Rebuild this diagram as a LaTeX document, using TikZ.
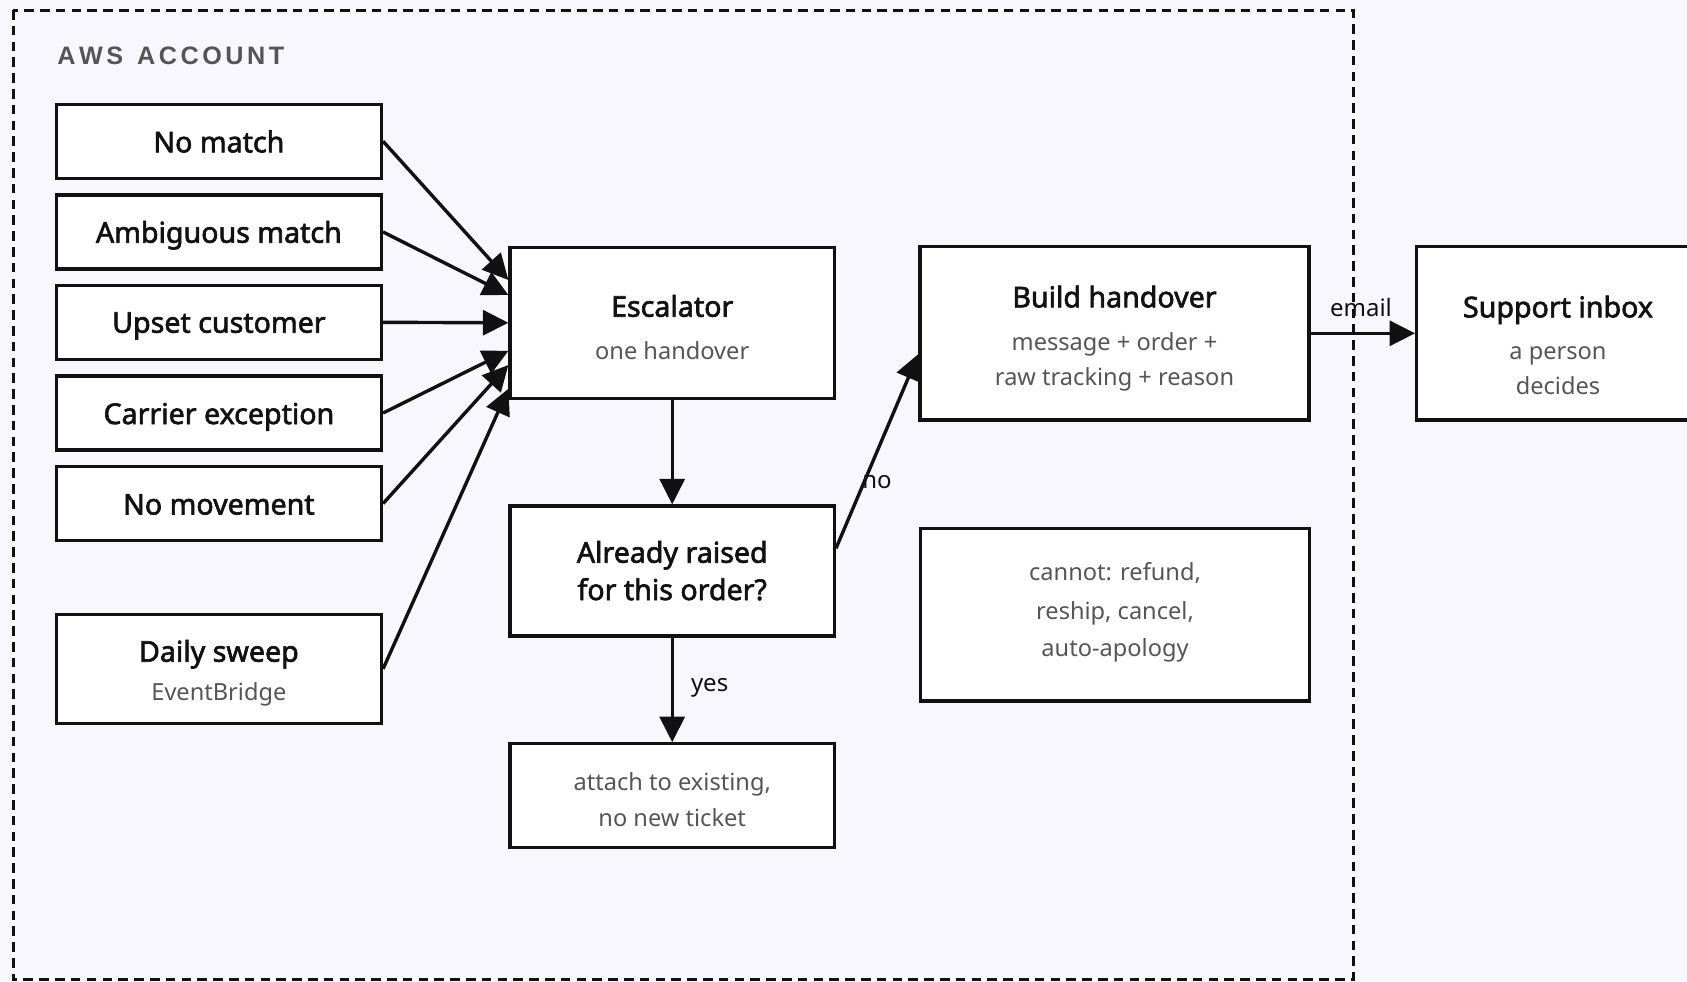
\documentclass[tikz,border=0pt]{standalone}
\usepackage{fontspec}
\setmainfont{Noto Sans}[BoldFont={Noto Sans}, BoldFeatures={FakeBold=2.2}]
\newfontfamily\acctfont{Liberation Sans}
\usetikzlibrary{arrows.meta,calc}
\definecolor{bg}{HTML}{F8F7FE}
\definecolor{ink}{HTML}{111111}
\definecolor{muted}{HTML}{555555}
% tracked capitals for the account heading
\newcommand\trk{\kern1.75pt}

\begin{document}
\begin{tikzpicture}[x=0.5pt,y=-0.5pt,
  box/.style={draw=ink, line width=1.6pt, fill=white, inner sep=0pt},
  srcbox/.style={box, minimum width=162.6pt, minimum height=37pt},
  midbox/.style={box, minimum width=162.2pt},
  widebox/.style={box, minimum width=194.5pt, minimum height=86.7pt},
  title/.style={font=\fontsize{14.3}{17}\selectfont\bfseries, text=ink, anchor=base, inner sep=0pt},
  sub/.style={font=\fontsize{11.8}{14}\selectfont, text=muted, anchor=base, inner sep=0pt},
  elabel/.style={font=\fontsize{12}{14}\selectfont, text=ink, inner sep=0pt},
  flow/.style={draw=ink, line width=1.7pt, -{Triangle[length=12.8pt,width=12.5pt]}},
  frame/.style={draw=ink, line width=1.5pt, dash pattern=on 4.8pt off 3.1pt}
]
% canvas
\fill[bg] (0,0) rectangle (1687,981);
\useasboundingbox (0,0) rectangle (1687,981);

% account boundary
\draw[frame] (13.4,10) rectangle (1353,979.5);
\node[anchor=base west, inner sep=0pt, text=muted,
      font=\acctfont\bfseries\fontsize{12.6}{15}\selectfont]
      (acct) at (57,64.5) {A\trk W\trk S\trk\ \trk A\trk C\trk C\trk O\trk U\trk N\trk T};

% triggers
\node[srcbox] (nomatch) at (218.9,141.3) {};
\node[title] (nomatch-t) at (218.9,152.3) {No match};
\node[srcbox] (ambig) at (218.9,232) {};
\node[title] (ambig-t) at (218.9,242.7) {Ambiguous match};
\node[srcbox] (upset) at (218.9,322.3) {};
\node[title] (upset-t) at (218.9,332.7) {Upset customer};
\node[srcbox] (carrier) at (218.9,413) {};
\node[title] (carrier-t) at (218.9,424) {Carrier exception};
\node[srcbox] (nomove) at (218.9,503.5) {};
\node[title] (nomove-t) at (218.9,514.5) {No movement};
\node[srcbox, minimum height=54.5pt] (daily) at (218.9,668.8) {};
\node[title] (daily-t) at (218.9,661.7) {Daily sweep};
\node[sub] (daily-s) at (218.9,700) {EventBridge};

% escalation path
\node[midbox, minimum height=75.5pt] (esc) at (672.2,322.8) {};
\node[title] (esc-t) at (672.2,316.7) {Escalator};
\node[sub] (esc-s) at (672.2,359.3) {one handover};

\node[midbox, minimum height=65pt] (already) at (672.2,571) {};
\node[title] (already-t1) at (672.2,562.7) {Already raised};
\node[title] (already-t2) at (672.2,600) {for this order?};

\node[midbox, minimum height=52pt] (attach) at (672.2,795.8) {};
\node[sub] (attach-s1) at (672.2,790.7) {attach to existing,};
\node[sub] (attach-s2) at (672.2,826) {no new ticket};

\node[widebox] (build) at (1114.5,333.3) {};
\node[title] (build-t) at (1114.5,307.3) {Build handover};
\node[sub] (build-s1) at (1114.5,350.7) {message + order +};
\node[sub] (build-s2) at (1114.5,385.7) {raw tracking + reason};

\node[widebox, minimum height=86.3pt] (cannot) at (1115,614.7) {};
\node[sub] (cannot-s1) at (1115,580) {cannot: refund,};
\node[sub] (cannot-s2) at (1115,619) {reship, cancel,};
\node[sub] (cannot-s3) at (1115,656.7) {auto-apology};

\node[widebox, minimum width=141.3pt] (inbox) at (1558,333.3) {};
\node[title] (inbox-t) at (1558,317.3) {Support inbox};
\node[sub] (inbox-s1) at (1558,359) {a person};
\node[sub] (inbox-s2) at (1558,394) {decides};

% arrival points on the escalator
\coordinate (e1) at ($(esc.west)+(0,-42.8)$);
\coordinate (e2) at ($(esc.west)+(0,-27.8)$);
\coordinate (e3) at (esc.west);
\coordinate (e4) at ($(esc.west)+(0,28)$);
\coordinate (e5) at ($(esc.west)+(0,42.2)$);
\coordinate (e6) at ($(esc.west)+(0,66)$);

\draw[flow] (nomatch.east) -- (e1);
\draw[flow] (ambig.east) -- (e2);
\draw[flow] (upset.east) -- (e3);
\draw[flow] (carrier.east) -- (e4);
\draw[flow] (nomove.east) -- (e5);
\draw[flow] (daily.east) -- (e6);

\draw[flow] (esc.south) -- (already.north);
\draw[flow] (already.south) -- (attach.north);
\node[elabel, anchor=base west] (yes-l) at (690.6,691.7) {yes};

\coordinate (noStart) at ($(already.east)+(0,-22.7)$);
\coordinate (noEnd) at ($(build.west)+(0,20.7)$);
\draw[flow] (noStart) -- (noEnd);
\node[elabel, anchor=base west] (no-l) at (862,488.3) {no};

\draw[flow] (build.east) -- (inbox.west);
\node[elabel, anchor=base] (email-l) at (1361,316.7) {email};
\end{tikzpicture}
\end{document}
